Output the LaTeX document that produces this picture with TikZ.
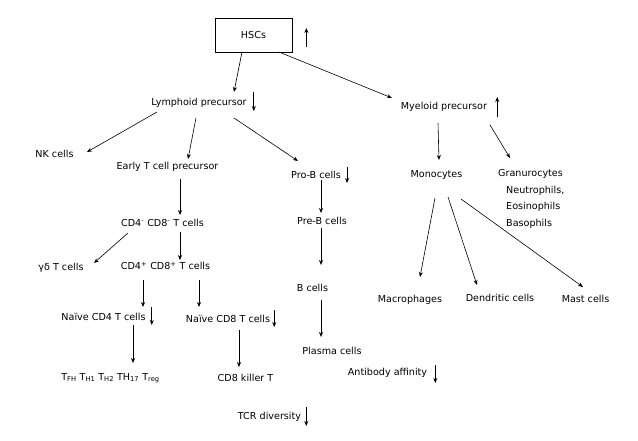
\documentclass[tikz,border=0pt]{standalone}
\usepackage{fontspec}
\setmainfont{DejaVu Sans}
\usetikzlibrary{calc,arrows.meta}

\begin{document}
\begin{tikzpicture}[
  x=1pt, y=-1pt,
  every node/.style={inner sep=1.5pt, font=\fontsize{9.6}{12}\selectfont},
  box/.style={draw, line width=0.7pt, minimum width=77pt, minimum height=34pt},
  list/.style={align=left, anchor=north west, font=\fontsize{9.6}{16.5}\selectfont},
  arr/.style={-{Stealth[length=5pt,width=4pt]}, line width=0.6pt},
  ind/.style={-{Stealth[length=5pt,width=4pt]}, line width=0.8pt}
]
\useasboundingbox (0,0) rectangle (638,441);

% stem and precursors
\node[box] (hsc) at (253.5,35) {HSCs};
\node (lym) at (199,103) {Lymphoid precursor};
\node (mye) at (444,107) {Myeloid precursor};

% lymphoid side
\node (nk) at (54.5,154) {NK cells};
\node (early) at (167.5,167) {Early T cell precursor};
\node (prob) at (316,175) {Pro-B cells};
\node (preb) at (322,221) {Pre-B cells};
\node (bc) at (312.5,288) {B cells};
\node (plasma) at (332,351) {Plasma cells};
\node (ab) at (387.5,373) {Antibody affinity};
\node (dn) at (162.5,223) {CD4\textsuperscript{-} CD8\textsuperscript{-} T cells};
\node (gd) at (61,268) {γδ T cells};
\node (dp) at (165.5,266) {CD4\textsuperscript{+} CD8\textsuperscript{+} T cells};
\node (n4) at (103.5,317) {Naïve CD4 T cells};
\node (n8) at (228,319) {Naïve CD8 T cells};
\node (tsub) at (110.5,378) {T\textsubscript{FH} T\textsubscript{H1} T\textsubscript{H2} TH\textsubscript{17} T\textsubscript{reg}};
\node (k8) at (245.5,378) {CD8 killer T};
\node (tcr) at (269.5,417) {TCR diversity};

% myeloid side
\node (mono) at (436.5,175) {Monocytes};
\node[list] (gran) at (496.5,168) {Granurocytes\\\hspace*{8pt}Neutrophils,\\\hspace*{8pt}Eosinophils\\\hspace*{8pt}Basophils};
\node (mac) at (410,300) {Macrophages};
\node (dc) at (500,298) {Dendritic cells};
\node (mast) at (585.5,299) {Mast cells};

% connectors
\draw[arr] ($(hsc)+(-11.5,17)$) -- ($(lym)+(35,-11)$);
\draw[arr] ($(hsc)+(25.5,17)$) -- ($(mye)+(-52,-9)$);
\draw[arr] ($(lym)+(-42,9)$) -- ($(nk)+(32.5,-2)$);
\draw[arr] ($(lym)+(-3,15)$) -- ($(early)+(20.5,-8)$);
\draw[arr] ($(lym)+(35,15)$) -- ($(prob)+(-18,-14)$);
\draw[arr] ($(prob)+(5,5)$) -- ($(preb)+(-1,-8)$);
\draw[arr] ($(preb)+(-1,7)$) -- ($(bc)+(8.5,-23)$);
\draw[arr] ($(bc)+(8.5,12)$) -- ($(plasma)+(-11,-14)$);
\draw[arr] ($(early)+(12.5,12)$) -- ($(dn)+(17.5,-8)$);
\draw[arr] ($(dn)+(-34.5,10)$) -- ($(gd)+(33,-5)$);
\draw[arr] ($(dn)+(17.5,9)$) -- ($(dp)+(14.5,-6)$);
\draw[arr] ($(dp)+(-22.5,14)$) -- ($(n4)+(39.5,-10)$);
\draw[arr] ($(dp)+(33.5,14)$) -- ($(n8)+(-29,-12)$);
\draw[arr] ($(n4)+(29.5,8)$) -- ($(tsub)+(22.5,-15)$);
\draw[arr] ($(n8)+(11,11)$) -- ($(k8)+(-6.5,-11)$);
\draw[arr] ($(mye)+(-6,16)$) -- ($(mono)+(2.5,-15)$);
\draw[arr] ($(mye)+(46,18)$) -- ($(gran.north west)+(13.5,-10)$);
\draw[arr] ($(mono)+(-1.5,23)$) -- ($(mac)+(10,-23)$);
\draw[arr] ($(mono)+(11.5,22)$) -- ($(dc)+(-23,-13)$);
\draw[arr] ($(mono)+(24.5,24)$) -- ($(mast)+(-2.5,-12)$);

% up / down marks
\draw[ind] ($(hsc.east)+(14,12)$) -- ++(0,-19);
\draw[ind] ($(lym.east)+(5.5,-11)$) -- ++(0,19);
\draw[ind] ($(mye.east)+(8.5,10)$) -- ++(0,-20);
\draw[ind] ($(prob.east)+(4.5,-8)$) -- ++(0,16);
\draw[ind] ($(ab.east)+(6.5,-8)$) -- ++(0,18);
\draw[ind] ($(n4.east)+(4.5,-10)$) -- ++(0,18);
\draw[ind] ($(n8.east)+(2.5,-9)$) -- ++(0,17);
\draw[ind] ($(tcr.east)+(3.5,-10)$) -- ++(0,19);
\end{tikzpicture}
\end{document}
